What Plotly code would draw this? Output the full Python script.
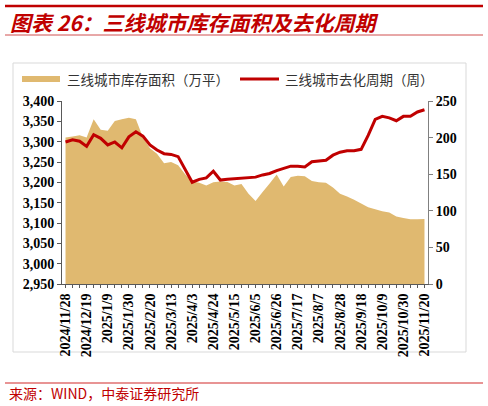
import pandas as pd
import plotly.graph_objects as go

# weekly observations, 2024/11/28 .. 2025/11/20
dates = pd.date_range("2024-11-28", periods=52, freq="7D")

inventory = [  # 三线城市库存面积（万平）, left axis
    3310, 3313, 3316, 3310, 3355, 3329, 3327, 3351, 3355, 3359,
    3355, 3310, 3284, 3270, 3247, 3250, 3242, 3220, 3202, 3199,
    3192, 3200, 3202, 3201, 3192, 3196, 3172, 3154, 3176, 3197,
    3219, 3190, 3213, 3216, 3215, 3203, 3200, 3199, 3187, 3172,
    3165, 3157, 3148, 3139, 3134, 3129, 3126, 3116, 3112, 3109,
    3109, 3110,
]

cycle = [  # 三线城市去化周期（周）, right axis
    194, 197, 195, 188, 204, 199, 190, 194, 186, 201,
    208, 202, 190, 183, 178, 177, 174, 157, 139, 143,
    145, 154, 142, 143, 144, 145, 145, 146, 149, 151,
    155, 158, 161, 161, 160, 167, 168, 169, 176, 180,
    182, 182, 184, 203, 225, 229, 227, 223, 229, 229,
    235, 238,
]

tick_labels = [
    "2024/11/28", "2024/12/19", "2025/1/9", "2025/1/30", "2025/2/20",
    "2025/3/13", "2025/4/3", "2025/4/24", "2025/5/15", "2025/6/5",
    "2025/6/26", "2025/7/17", "2025/8/7", "2025/8/28", "2025/9/18",
    "2025/10/9", "2025/10/30", "2025/11/20",
]
tick_vals = pd.to_datetime(tick_labels, format="%Y/%m/%d")

RED = "#C00000"
SAND = "#E0B970"
CJK = "Noto Sans CJK SC"
SERIF = "Liberation Serif"

# plot area in pixels
L, R, T, B = 62, 428, 101, 284


def px(x):
    return (x - L) / (R - L)


def py(y):
    return (B - y) / (B - T)


fig = go.Figure()
fig.add_trace(go.Scatter(
    x=dates, y=inventory, fill="tozeroy", mode="none",
    fillcolor=SAND, name="三线城市库存面积（万平）",
))
fig.add_trace(go.Scatter(
    x=dates, y=cycle, yaxis="y2", mode="lines",
    line=dict(color=RED, width=3), name="三线城市去化周期（周）",
))

half_week = pd.Timedelta(days=3.5)
tick_font = dict(family=SERIF, size=14, color="#000000", weight="bold")

fig.update_layout(
    width=488, height=406, autosize=False,
    margin=dict(l=L, r=488 - R, t=T, b=406 - B),
    paper_bgcolor="white", plot_bgcolor="white",
    showlegend=False,
    xaxis=dict(
        type="date",
        range=[dates[0] - half_week, dates[-1] + half_week],
        tickmode="array", tickvals=tick_vals, ticktext=tick_labels,
        tickangle=-90, tickfont=tick_font,
        ticks="outside", ticklen=3, tickcolor="#595959",
        minor=dict(ticks="outside", ticklen=3, dtick=7 * 86400000,
                   tick0=dates[0], tickcolor="#595959"),
        showline=True, linecolor="#595959", linewidth=1,
        showgrid=False, zeroline=False,
    ),
    yaxis=dict(
        range=[2950, 3400], dtick=50, tickformat=",",
        tickfont=dict(family=SERIF, size=14, color="#000000", weight="bold"),
        ticks="outside", ticklen=4, tickcolor="#595959",
        showline=True, linecolor="#595959", linewidth=1,
        showgrid=False, zeroline=False,
    ),
    yaxis2=dict(
        range=[0, 250], dtick=50, overlaying="y", side="right",
        tickfont=dict(family=SERIF, size=14, color="#000000", weight="bold"),
        ticks="outside", ticklen=4, tickcolor="#808080",
        showline=True, linecolor="#808080", linewidth=1,
        showgrid=False, zeroline=False,
    ),
)

shapes = [
    # header rules
    dict(type="line", x0=px(5), x1=px(483), y0=py(6), y1=py(6),
         line=dict(color=RED, width=2.5)),
    dict(type="line", x0=px(5), x1=px(483), y0=py(35), y1=py(35),
         line=dict(color="#D05050", width=1)),
    # footer rule
    dict(type="line", x0=px(5), x1=px(483), y0=py(383), y1=py(383),
         line=dict(color="#E07070", width=1.5)),
    # chart frame
    dict(type="rect", x0=px(13), x1=px(466), y0=py(63), y1=py(352),
         line=dict(color="#D9D9D9", width=1), layer="below"),
    # legend swatches
    dict(type="rect", x0=px(22), x1=px(60), y0=py(76), y1=py(82),
         fillcolor=SAND, line=dict(width=0)),
    dict(type="line", x0=px(240), x1=px(279), y0=py(79), y1=py(79),
         line=dict(color=RED, width=3)),
]
for s in shapes:
    s.update(xref="paper", yref="paper")
fig.update_layout(shapes=shapes)

annotations = [
    dict(x=px(8), y=py(22), text="图表 26：三线城市库存面积及去化周期",
         font=dict(family=CJK, size=21, color=RED, weight="bold", style="italic")),
    dict(x=px(65), y=py(79), text="三线城市库存面积（万平）",
         font=dict(family=CJK, size=13.5, color="#333333")),
    dict(x=px(283), y=py(79), text="三线城市去化周期（周）",
         font=dict(family=CJK, size=13.5, color="#333333")),
    dict(x=px(7), y=py(393), text="来源：WIND，中泰证券研究所",
         font=dict(family=CJK, size=14, color=RED)),
]
for a in annotations:
    a.update(xref="paper", yref="paper", xanchor="left", yanchor="middle",
             showarrow=False)
fig.update_layout(annotations=annotations)

# page body has an 8px default margin; drop it so the figure sits at 0,0
fig.write_html(
    "out.html",
    config={"displayModeBar": False},
    post_script="document.body.style.margin='0';",
)
